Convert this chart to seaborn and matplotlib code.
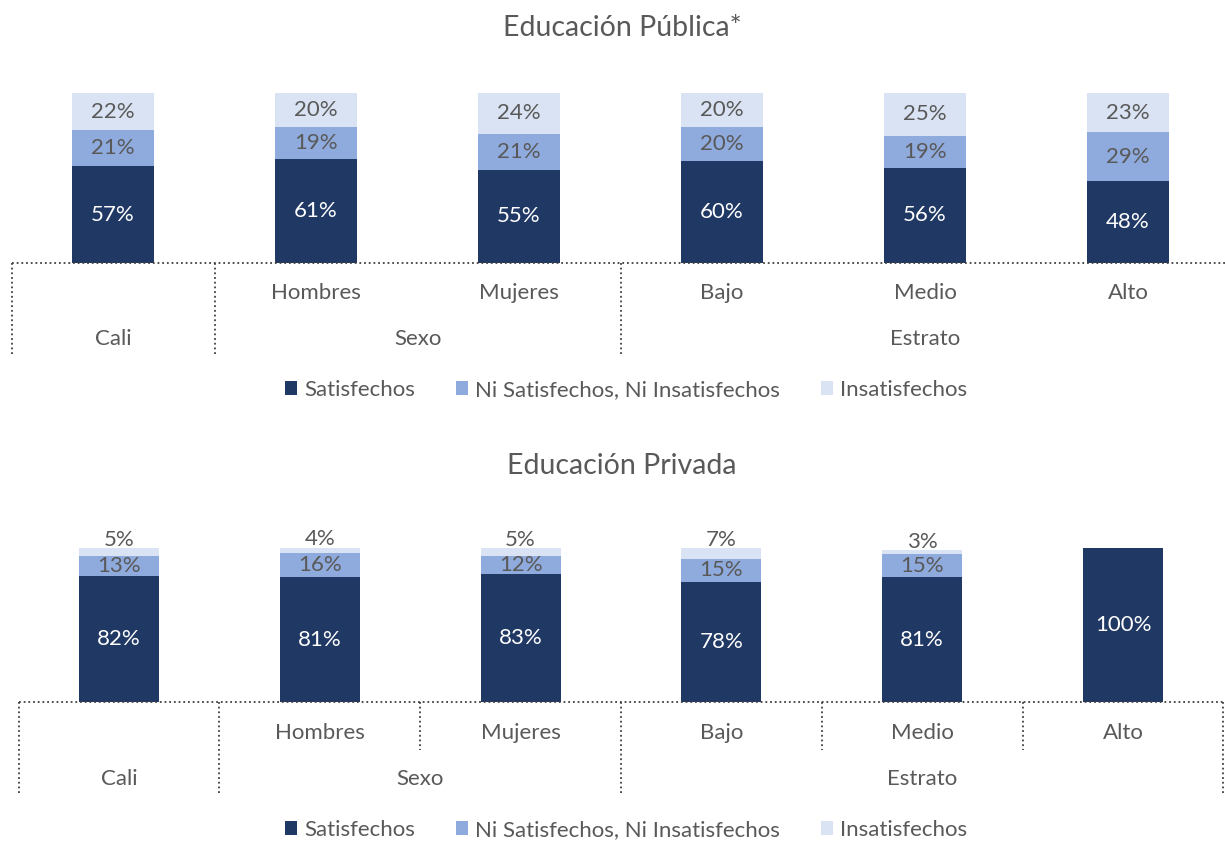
import pandas as pd
import matplotlib
matplotlib.use("Agg")
import matplotlib.pyplot as plt
import matplotlib.transforms as mtransforms
from matplotlib.patches import Patch
import seaborn as sns

# datos
grupos = ["Cali", "Hombres", "Mujeres", "Bajo", "Medio", "Alto"]
nivel1 = ["", "Hombres", "Mujeres", "Bajo", "Medio", "Alto"]
nivel2 = [("Cali", 0, 0), ("Sexo", 1, 2), ("Estrato", 3, 5)]

pub_sat = [57, 61, 55, 60, 56, 48]
pub_ni = [21, 19, 21, 20, 19, 29]
pub_ins = [22, 20, 24, 20, 25, 23]

priv_sat = [82, 81, 83, 78, 81, 100]
priv_ni = [13, 16, 12, 15, 15, 0]
priv_ins = [5, 4, 5, 7, 3, 0]

series = ["Satisfechos", "Ni Satisfechos, Ni Insatisfechos", "Insatisfechos"]
colores = ["#203864", "#8FAADC", "#DAE3F3"]
gris = "#595959"

sns.set_theme(style="white")
plt.rcParams["font.family"] = ["Lato", "DejaVu Sans"]

fig = plt.figure(figsize=(12.25, 8.42), dpi=100)


def panel(rect, xlim, ancho, sat, ni, ins, titulo, ytit, y1, y2, yleg,
          cortas, largas, largo, corto, etiqueta_arriba):
    ax = fig.add_axes(rect)
    df = pd.DataFrame({"grupo": grupos, "sat": sat, "ni": ni, "ins": ins})
    df["c2"] = df["sat"] + df["ni"]
    df["c3"] = df["c2"] + df["ins"]
    for col, c in zip(["c3", "c2", "sat"], colores[::-1]):
        sns.barplot(data=df, x="grupo", y=col, color=c, saturation=1,
                    width=ancho, linewidth=0, ax=ax, order=grupos)
    ax.set_xlim(*xlim)
    ax.set_ylim(0, 100)
    ax.axis("off")

    # etiquetas de valores
    for i, r in df.iterrows():
        if r["sat"] > 0:
            ax.text(i, r["sat"] / 2, f"{r['sat']}%", ha="center", va="center",
                    color="white", fontsize=16)
        if r["ni"] > 0:
            ax.text(i, r["sat"] + r["ni"] / 2, f"{r['ni']}%", ha="center",
                    va="center", color=gris, fontsize=16)
        if r["ins"] > 0:
            y = r["c3"] + 5 if etiqueta_arriba else r["c2"] + r["ins"] / 2
            ax.text(i, y, f"{r['ins']}%", ha="center", va="center",
                    color=gris, fontsize=16)

    # ejes categoricos de dos niveles
    tr = mtransforms.blended_transform_factory(ax.transData, ax.transAxes)
    ls = (0, (1, 1.6))
    ax.plot([-0.5, 5.5], [0, 0], transform=tr, color="#404040", lw=1.3,
            ls=ls, clip_on=False)
    for x in largas:
        ax.plot([x, x], [0, largo], transform=tr, color="#404040", lw=1.3,
                ls=ls, clip_on=False)
    for x in cortas:
        ax.plot([x, x], [0, corto], transform=tr, color="#404040", lw=1.3,
                ls=ls, clip_on=False)
    for i, t in enumerate(nivel1):
        ax.text(i, y1, t, transform=tr, ha="center", va="center",
                color=gris, fontsize=16, clip_on=False)
    for t, a, b in nivel2:
        ax.text((a + b) / 2, y2, t, transform=tr, ha="center", va="center",
                color=gris, fontsize=16, clip_on=False)

    fig.text(622 / 1225, ytit, titulo, ha="center", va="center",
             color=gris, fontsize=20.5)
    handles = [Patch(facecolor=c, edgecolor="none") for c in colores]
    fig.legend(handles, series, loc="center", bbox_to_anchor=(626 / 1225, yleg),
               ncol=3, frameon=False, fontsize=16, labelcolor=gris,
               handlelength=0.55, handleheight=0.55, handletextpad=0.3,
               columnspacing=1.85)
    return ax


panel([0, (842 - 263) / 842, 1, 170 / 842], (-113 / 203, 1112 / 203),
      82 / 203, pub_sat, pub_ni, pub_ins, "Educación Pública*",
      1 - 28 / 842, -30 / 170, -76 / 170, 1 - 390 / 842,
      cortas=[], largas=[-0.5, 0.5, 2.5], largo=-92 / 170, corto=0,
      etiqueta_arriba=False)

panel([0, (842 - 702) / 842, 1, 154 / 842], (-119 / 200.8, 1106 / 200.8),
      80 / 200.8, priv_sat, priv_ni, priv_ins, "Educación Privada",
      1 - 466 / 842, -31 / 154, -77 / 154, 1 - 830 / 842,
      cortas=[1.5, 3.5, 4.5], largas=[-0.5, 0.5, 2.5, 5.5],
      largo=-93 / 154, corto=-48 / 154, etiqueta_arriba=True)

fig.savefig("out.png", dpi=100, facecolor="white")
